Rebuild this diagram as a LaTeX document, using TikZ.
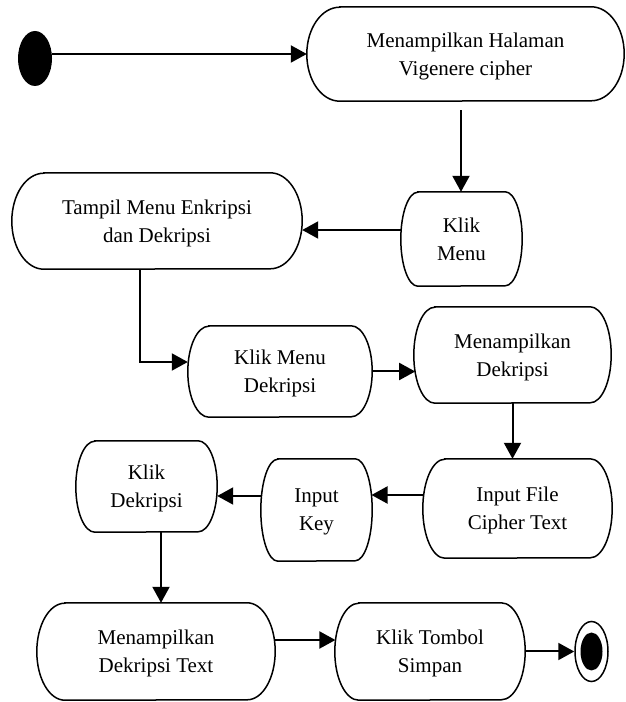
\documentclass[tikz,border=0pt]{standalone}
\usepackage{fontspec}
\setmainfont{Liberation Serif}
\usetikzlibrary{arrows.meta,shapes.geometric,calc}
\tikzset{
  acttext/.style={draw=none, inner sep=0pt, align=center, text depth=0pt, font=\fontsize{21}{28}\selectfont},
  actline/.style={line width=1.5pt},
  arr/.style={-{Triangle[length=16pt,width=17pt]}, line width=2pt},
}
\newcommand\actnode[7]{%
  \node[acttext, minimum width=#4pt, minimum height=#5pt] (#1) at (#2,702-#3) {#7};
  \draw[actline] ([xshift=#6pt]#1.north west) -- ([xshift=-#6pt]#1.north east)
     arc[start angle=90, end angle=-90, x radius=#6pt, y radius=#5pt/2]
     -- ([xshift=#6pt]#1.south west)
     arc[start angle=270, end angle=90, x radius=#6pt, y radius=#5pt/2] -- cycle;}
\begin{document}
\begin{tikzpicture}[x=1pt,y=1pt]
\useasboundingbox (0,0) rectangle (626,702);
% start
\node[fill=black, ellipse, minimum width=34pt, minimum height=55pt, inner sep=0pt] (start) at (35,702-58.5) {};
% activities
\actnode{n1}{465.5}{54}{317}{94}{33}{Menampilkan Halaman\\Vigenere cipher}
\actnode{km}{461.5}{239}{121}{94}{17}{Klik\\Menu}
\actnode{tm}{157}{221}{290}{96}{32}{Tampil Menu Enkripsi\\dan Dekripsi}
\actnode{kmd}{280}{371.5}{184}{91}{21}{Klik Menu\\Dekripsi}
\actnode{md}{512.5}{355}{197}{96}{21}{Menampilkan\\Dekripsi}
\actnode{inf}{517.5}{508.5}{189}{99}{22}{Input File\\Cipher Text}
\actnode{ik}{316.5}{510}{111}{102}{17}{Input\\Key}
\actnode{kd}{146.5}{486.5}{141}{91}{19}{Klik\\Dekripsi}
\actnode{mdt}{156}{651.5}{238}{97}{28}{Menampilkan\\Dekripsi Text}
\actnode{kts}{430}{651.5}{190}{97}{24}{Klik Tombol\\Simpan}
% final
\node[draw, ellipse, line width=1.5pt, minimum width=33pt, minimum height=60pt, inner sep=0pt] (final) at (591.5,702-651.5) {};
\node[fill=black, ellipse, minimum width=22pt, minimum height=38pt, inner sep=0pt] (finalin) at (final) {};
% connector helper points
\coordinate (c1) at ([yshift=9pt]km.west);
\coordinate (c2) at ([yshift=13.5pt,xshift=0.8pt]inf.west);
\coordinate (c3) at ([yshift=14pt,xshift=0.7pt]ik.west);
\coordinate (c4) at ([yshift=11.5pt]mdt.east);
% connectors
\draw[arr] (start.east |- n1.west) -- (n1.west);
\draw[arr] ([xshift=-4.5pt,yshift=-9pt]n1.south) -- ([xshift=-4.5pt]n1.south |- km.north);
\draw[arr] (c1) -- (tm.east |- c1);
\draw[arr] ([xshift=-17pt]tm.south) |- ([yshift=9.5pt]kmd.west);
\draw[arr] (kmd.east) -- ([xshift=1.4pt]md.west |- kmd.east);
\draw[arr] (md.south) -- (md.south |- inf.north);
\draw[arr] (c2) -- ([xshift=-0.7pt]ik.east |- c2);
\draw[arr] (c3) -- (kd.east |- c3);
\draw[arr] ([xshift=14.5pt]kd.south) -- ([xshift=14.5pt]kd.south |- mdt.north);
\draw[arr] (c4) -- ([xshift=0.6pt]kts.west |- c4);
\draw[arr] (kts.east) -- (final.west);
\end{tikzpicture}
\end{document}
